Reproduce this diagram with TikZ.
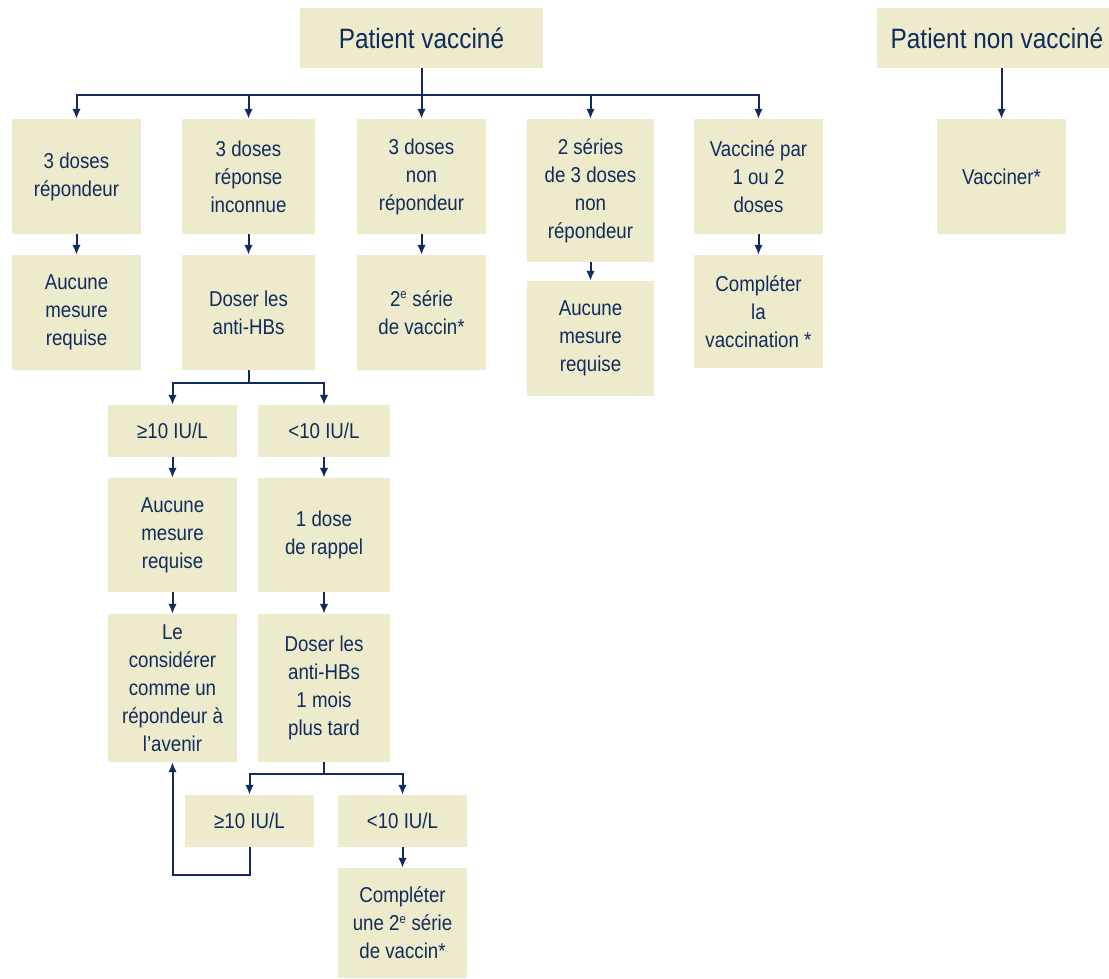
\documentclass[tikz,border=0pt]{standalone}
\usepackage{fontspec}
\setmainfont{Liberation Sans}[FakeStretch=0.87]
\usepackage{tikz}
\usetikzlibrary{arrows.meta}

\definecolor{navy}{RGB}{16,44,92}
\definecolor{beige}{RGB}{238,235,204}
\newcommand{\supe}{\textsuperscript{\fontsize{13}{13}\selectfont e}}

\begin{document}
\begin{tikzpicture}[
    x=1pt, y=-1pt,
    box/.style={
        rectangle,
        fill=beige,
        minimum width=129pt,
        minimum height=115pt,
        inner sep=0pt,
        align=center,
        text=navy,
        font=\fontsize{21.5}{28}\selectfont
    },
    smallbox/.style={
        box,
        minimum height=52pt
    },
    titlebox/.style={
        box,
        minimum height=60pt,
        font=\fontsize{28}{34}\selectfont
    },
    arrow/.style={
        -{Latex[length=10pt,width=8.5pt]},
        line width=2pt,
        color=navy
    }
]
\useasboundingbox (0,0) rectangle (1109,978);

% Top
\node[titlebox, minimum width=243pt] (vacc) at (421.5,38) {Patient vaccin\'e};
\node[titlebox, minimum width=240pt] (nonvacc) at (997,38) {Patient non vaccin\'e};

% First row
\node[box] (rep) at (76.5,176.5) {3 doses\\r\'epondeur};
\node[box, minimum width=133pt] (inconnu) at (248.5,176.5) {3 doses\\r\'eponse\\inconnue};
\node[box] (nonrep) at (421.5,176.5) {3 doses\\non\\r\'epondeur};
\node[box, minimum width=127pt, minimum height=143pt] (deuxseries) at (590.5,190.5) {2 s\'eries\\de 3 doses\\non\\r\'epondeur};
\node[box] (partiel) at (758.5,176.5) {Vaccin\'e par\\1 ou 2\\doses};
\node[box] (vacciner) at (1001.5,176.5) {Vacciner*};

% Second row
\node[box] (aucune1) at (76.5,312.5) {Aucune\\mesure\\requise};
\node[box, minimum width=133pt] (doser1) at (248.5,312.5) {Doser les\\anti-HBs};
\node[box] (serie2) at (421.5,312.5) {2\supe{} s\'erie\\de vaccin*};
\node[box, minimum width=127pt] (aucune2) at (590.5,338.5) {Aucune\\mesure\\requise};
\node[box, minimum height=113pt] (completer1) at (758.5,311.5) {Compl\'eter\\la\\vaccination *};

% Titre anti-HBs
\node[smallbox] (sup1) at (172.5,431) {≥10 IU/L};
\node[smallbox, minimum width=132pt] (inf1) at (324,431) {<10 IU/L};
\node[box, minimum height=114pt] (aucune3) at (172.5,535) {Aucune\\mesure\\requise};
\node[box, minimum width=132pt, minimum height=114pt] (rappel) at (324,535) {1 dose\\de rappel};
\node[box, minimum height=148pt] (considerer) at (172.5,688) {Le\\consid\'erer\\comme un\\r\'epondeur \`a\\l’avenir};
\node[box, minimum width=132pt, minimum height=148pt] (doser2) at (324,688) {Doser les\\anti-HBs\\1 mois\\plus tard};

% Second dosage
\node[smallbox] (sup2) at (249.5,821) {≥10 IU/L};
\node[smallbox] (inf2) at (402.5,821) {<10 IU/L};
\node[box, minimum height=110pt] (completer2) at (402.5,923) {Compl\'eter\\une 2\supe{} s\'erie\\de vaccin*};

% Arrows
\draw[arrow] (vacc.south) -- ++(0,27) -| (rep.north);
\draw[arrow] (vacc.south) -- ++(0,27) -| (inconnu.north);
\draw[arrow] (vacc.south) -- ++(0,27) -| (nonrep.north);
\draw[arrow] (vacc.south) -- ++(0,27) -| (deuxseries.north);
\draw[arrow] (vacc.south) -- ++(0,27) -| (partiel.north);
\draw[arrow] (nonvacc.south -| vacciner.north) -- (vacciner.north);

\draw[arrow] (rep.south) -- (aucune1.north);
\draw[arrow] (inconnu.south) -- (doser1.north);
\draw[arrow] (nonrep.south) -- (serie2.north);
\draw[arrow] (deuxseries.south) -- (aucune2.north);
\draw[arrow] (partiel.south) -- (completer1.north);

\draw[arrow] (doser1.south) -- ++(0,13) -| (sup1.north);
\draw[arrow] (doser1.south) -- ++(0,13) -| (inf1.north);
\draw[arrow] (sup1.south) -- (aucune3.north);
\draw[arrow] (inf1.south) -- (rappel.north);
\draw[arrow] (aucune3.south) -- (considerer.north);
\draw[arrow] (rappel.south) -- (doser2.north);

\draw[arrow] (doser2.south) -- ++(0,12) -| (sup2.north);
\draw[arrow] (doser2.south) -- ++(0,12) -| (inf2.north);
\draw[arrow] (inf2.south) -- (completer2.north);

% Loop back
\draw[arrow] (sup2.south) -- ++(0,28) -| (considerer.south);

\end{tikzpicture}
\end{document}
